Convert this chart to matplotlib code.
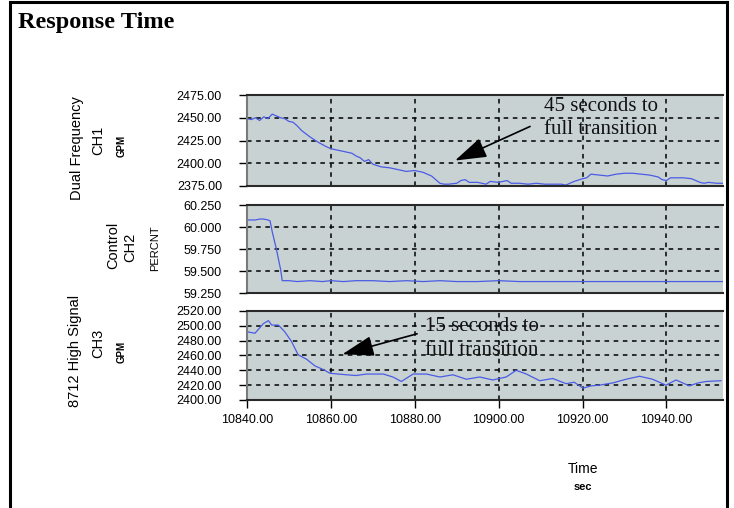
import matplotlib
matplotlib.use("Agg")
import matplotlib.pyplot as plt
from matplotlib.lines import Line2D

# CH1 - Dual Frequency (GPM)
t1 = [10840, 10841, 10842, 10843, 10844, 10845, 10846, 10847, 10848, 10849,
      10850, 10851, 10852, 10853, 10855, 10857, 10859, 10860, 10862, 10864,
      10865, 10866, 10867, 10868, 10869, 10870, 10872, 10874, 10876, 10878,
      10880, 10881, 10882, 10883, 10884, 10885, 10886, 10887, 10888, 10890,
      10891, 10892, 10893, 10895, 10897, 10898, 10900, 10902, 10903, 10905,
      10907, 10909, 10911, 10913, 10915, 10916, 10917, 10918, 10920, 10921,
      10922, 10924, 10926, 10928, 10930, 10932, 10934, 10936, 10938, 10939,
      10940, 10941, 10942, 10944, 10946, 10947, 10948, 10949, 10950, 10952,
      10953.5]
ch1 = [2449, 2448, 2450, 2447, 2451, 2449, 2454, 2452, 2450, 2449,
       2446, 2445, 2441, 2436, 2429, 2423, 2418, 2416, 2414, 2412,
       2411, 2408, 2406, 2402, 2404, 2399, 2396, 2395, 2393, 2391,
       2392, 2391, 2390, 2388, 2386, 2382, 2378, 2377, 2377, 2378,
       2381, 2382, 2379, 2379, 2377, 2380, 2379, 2381, 2378, 2378,
       2377, 2378, 2377, 2377, 2377, 2376, 2378, 2380, 2383, 2384,
       2388, 2387, 2386, 2388, 2389, 2389, 2388, 2387, 2385, 2382,
       2381, 2384, 2384, 2384, 2383, 2381, 2379, 2378, 2379, 2378,
       2378]

# CH2 - Control (PERCNT)
t2 = [10840, 10842, 10843, 10844, 10845, 10845.5, 10846, 10847, 10848, 10848.4,
      10850, 10852, 10855, 10858, 10860, 10863, 10866, 10870, 10874, 10878,
      10882, 10886, 10890, 10895, 10900, 10905, 10910, 10915, 10920, 10925,
      10930, 10935, 10940, 10945, 10950, 10953.5]
ch2 = [60.08, 60.08, 60.09, 60.09, 60.08, 60.07, 59.95, 59.75, 59.52, 59.39,
       59.39, 59.38, 59.39, 59.38, 59.39, 59.38, 59.39, 59.39, 59.38, 59.39,
       59.38, 59.39, 59.38, 59.38, 59.39, 59.38, 59.38, 59.38, 59.38, 59.38,
       59.38, 59.38, 59.38, 59.38, 59.38, 59.38]

# CH3 - 8712 High Signal (GPM)
t3 = [10840, 10841.9, 10843.9, 10845.1, 10845.9, 10847.5, 10849, 10850.6, 10852.2, 10854.2,
      10856.2, 10858.2, 10859.8, 10863.7, 10866, 10868.5, 10872.5, 10874.8, 10876.8, 10879.6,
      10882.8, 10886, 10889.1, 10892.3, 10895.5, 10898.6, 10901.8, 10904.2, 10906.6, 10909.8,
      10912.9, 10916.1, 10918, 10920.1, 10922, 10924, 10927.2, 10930.4, 10933.6, 10936.7,
      10939.9, 10942.3, 10945.5, 10947.5, 10949.5, 10953]
ch3 = [2492, 2490, 2503, 2507, 2501, 2501, 2492, 2479, 2461, 2455,
       2446, 2441, 2436, 2434, 2433, 2435, 2435, 2431, 2425, 2435,
       2435, 2431, 2434, 2428, 2431, 2427, 2431, 2440, 2435, 2426,
       2429, 2422, 2424, 2416, 2419, 2420, 2423, 2428, 2432, 2428,
       2420, 2427, 2419, 2423, 2425, 2426]

W, H = 734, 508
fig = plt.figure(figsize=(W / 100, H / 100), dpi=100)

def px(x, y):
    return x / W, 1 - y / H

bg = "#c9d2d2"
blue = "#4a5ce6"
panels = [
    (95, 186, t1, ch1, (2375, 2475), [2375, 2400, 2425, 2450, 2475], "%.2f"),
    (205, 293, t2, ch2, (59.25, 60.25), [59.25, 59.5, 59.75, 60.0, 60.25], "%.3f"),
    (311, 400, t3, ch3, (2400, 2520), [2400, 2420, 2440, 2460, 2480, 2500, 2520], "%.2f"),
]
xticks = [10840, 10860, 10880, 10900, 10920, 10940]
axes = []
for i, (top, bot, t, v, ylim, yt, fmt) in enumerate(panels):
    ax = fig.add_axes([247 / W, 1 - bot / H, (723 - 247) / W, (bot - top) / H])
    ax.set_facecolor(bg)
    ax.plot(t, v, color=blue, lw=0.9)
    ax.set_xlim(10840, 10953.5)
    ax.set_ylim(*ylim)
    ax.set_yticks(yt)
    ax.set_yticklabels([fmt % y for y in yt], fontsize=9, family="Liberation Sans")
    ax.set_xticks(xticks)
    ax.grid(True, color="black", ls=(0, (3, 3)), lw=1.1)
    ax.spines["right"].set_visible(False)
    ax.spines["left"].set_color("#7a7a7a")
    ax.spines["left"].set_linewidth(1.5)
    for s in ["top", "bottom"]:
        ax.spines[s].set_color("#2a2a2a")
        ax.spines[s].set_linewidth(1.5)
    ax.tick_params(axis="y", direction="out", length=6, width=1, pad=12)
    if i < 2:
        ax.tick_params(axis="x", length=0, labelbottom=False)
    else:
        ax.set_xticklabels(["%.2f" % x for x in xticks], fontsize=9, family="Liberation Sans")
        ax.tick_params(axis="x", direction="out", length=6, width=1, pad=4)
    axes.append(ax)

# arrows + notes
serif = "Liberation Serif"
axes[0].annotate("", xy=(10889.0, 2401.7), xytext=(10908.1, 2441.7),
                 arrowprops=dict(arrowstyle="-|>,head_length=1.4,head_width=0.45",
                                 color="black", lw=1.2, mutation_scale=14))
axes[0].text(10924.3, 2450, "45 seconds to\nfull transition", fontsize=15,
             family=serif, ha="center", va="center", color="#111111", linespacing=1.3)
axes[2].annotate("", xy=(10862.1, 2460.7), xytext=(10881.2, 2490.3),
                 arrowprops=dict(arrowstyle="-|>,head_length=1.4,head_width=0.45",
                                 color="black", lw=1.2, mutation_scale=14))
axes[2].text(10896, 2483, "15 seconds to\nfull transition", fontsize=15,
             family=serif, ha="center", va="center", color="#111111", linespacing=1.3)

# channel labels
sans = "Liberation Sans"
labels = [
    (77, 148, "Dual Frequency", 10.5, "normal"), (98, 140, "CH1", 10.5, "normal"),
    (122, 146, "GPM", 7, "bold"),
    (113, 245, "Control", 10.5, "normal"), (130, 247, "CH2", 10.5, "normal"),
    (155, 248, "PERCNT", 8, "normal"),
    (75, 351, "8712 High Signal", 10.5, "normal"), (98, 343, "CH3", 10.5, "normal"),
    (122, 352, "GPM", 7, "bold"),
]
for x, y, s, fs, w in labels:
    fig.text(*px(x, y), s, rotation=90, ha="center", va="center", fontsize=fs,
             family=sans, weight=w)

fig.text(*px(583, 469), "Time", ha="center", va="center", fontsize=10, family=sans)
fig.text(*px(583, 487), "sec", ha="center", va="center", fontsize=8, family=sans,
         weight="bold")

fig.text(*px(18, 28), "Response Time", ha="left", va="baseline", fontsize=17.5,
         family=serif, weight="bold")

# page frame
for xs, ys in [((10, 10), (508, 2)), ((10, 727), (2, 2)), ((727, 727), (2, 508))]:
    fig.add_artist(Line2D([x / W for x in xs], [1 - y / H for y in ys],
                          color="black", lw=2.2))

fig.savefig("out.png", dpi=100)
